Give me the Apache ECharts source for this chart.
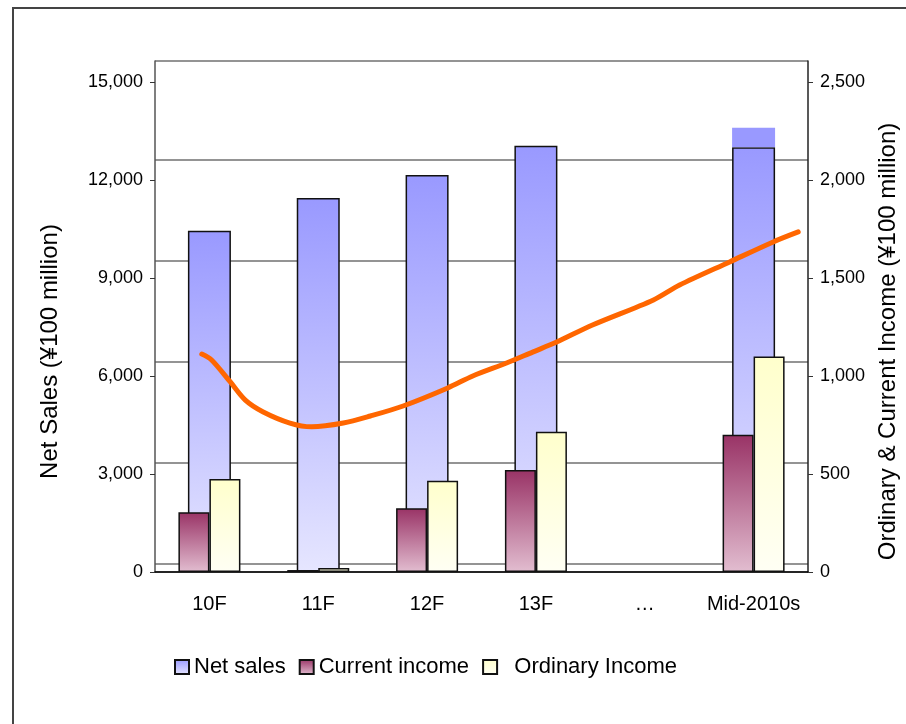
<!DOCTYPE html>
<html>
<head>
<meta charset="utf-8">
<script src="https://cdn.jsdelivr.net/npm/echarts@6/dist/echarts.min.js"></script>
<style>
html,body{margin:0;padding:0;background:#fff;}
#frame{position:absolute;left:12px;top:7px;right:0;bottom:0;border-left:2px solid #444;border-top:2px solid #444;}
#chart{position:absolute;left:0;top:0;width:906px;height:724px;}
</style>
</head>
<body>
<div id="frame"></div>
<div id="chart"></div>
<script>
// data
var categories = ['10F', '11F', '12F', '13F', '…', 'Mid-2010s'];
var netSales = [10450, 11450, 12150, 13050, null, 13000];      // left axis
var netSalesUpper = [null, null, null, null, null, 600];         // light cap on the last bar
var currentIncome = [305, 10, 325, 520, null, 700];              // right axis
var ordinaryIncome = [475, 20, 465, 715, null, 1100];            // right axis
// orange trend line, x in category units (0..6), y on the right axis
var trendX = [0.43, 0.52, 0.69, 0.83, 0.99, 1.24, 1.44, 1.73, 1.98, 2.28, 2.69, 2.92, 3.23, 3.47, 3.69, 4.02, 4.58, 4.82, 5.28, 5.68, 5.91];
var trendY = [1112, 1082, 971, 877, 818, 760, 741, 760, 796, 847, 939, 1000, 1066, 1122, 1173, 1260, 1388, 1464, 1582, 1684, 1735];
// tick labels
var leftTicks = [0, 3000, 6000, 9000, 12000, 15000];
var rightTicks = [0, 500, 1000, 1500, 2000, 2500];

var trendData = [];
for (var i = 0; i < trendX.length; i++) {
    trendData.push([trendX[i], trendY[i]]);
}

var myChart = echarts.init(document.getElementById('chart'), null, {renderer: 'canvas'});

function grad(top, bottom) {
    return new echarts.graphic.LinearGradient(0, 0, 0, 1, [
        {offset: 0, color: top},
        {offset: 1, color: bottom}
    ]);
}
function fmt(v) {
    return v.toLocaleString('en-US');
}

var option = {
    animation: false,
    textStyle: {fontFamily: 'Liberation Sans, Arial, sans-serif', color: '#000'},
    grid: {left: 155, right: 98, top: 61, bottom: 152, outerBoundsMode: 'none'},
    legend: {
        data: ['Net sales', 'Current income', 'Ordinary Income'],
        left: 174,
        top: 656,
        padding: 0,
        itemGap: 13,
        itemWidth: 14,
        itemHeight: 14,
        icon: 'rect',
        formatter: function (name) {
            return name === 'Ordinary Income' ? '  ' + name : name;
        },
        textStyle: {fontSize: 22, color: '#000'}
    },
    xAxis: [
        {
            type: 'category',
            data: categories,
            axisLine: {lineStyle: {color: '#000', width: 1.5}},
            axisTick: {inside: true, length: 8, lineStyle: {color: '#000'}},
            axisLabel: {interval: 0, fontSize: 20, color: '#000', margin: 22}
        },
        {
            type: 'category',
            data: categories,
            show: false
        },
        {
            type: 'value',
            min: 0,
            max: 6,
            show: false
        }
    ],
    yAxis: [
        {
            type: 'value',
            min: 0,
            max: 15643,
            name: 'Net Sales (¥100 million)',
            nameLocation: 'middle',
            nameGap: 93,
            nameTextStyle: {fontSize: 24, color: '#000', padding: [0, 70, 0, 0]},
            axisLine: {show: true, lineStyle: {color: '#555', width: 1.5}},
            axisTick: {show: true, length: 5, customValues: leftTicks, lineStyle: {color: '#333'}},
            axisLabel: {fontSize: 18, color: '#000', margin: 12, customValues: leftTicks, formatter: fmt},
            splitLine: {show: false}
        },
        {
            type: 'value',
            min: 0,
            max: 2607,
            position: 'right',
            name: 'Ordinary & Current Income (¥100 million)',
            nameLocation: 'middle',
            nameGap: 64,
            nameTextStyle: {fontSize: 24, color: '#000', padding: [0, 50, 0, 0]},
            axisLine: {show: true, lineStyle: {color: '#222', width: 1.5}},
            axisTick: {show: true, length: 5, customValues: rightTicks, lineStyle: {color: '#333'}},
            axisLabel: {fontSize: 18, color: '#000', margin: 12, customValues: rightTicks, formatter: fmt},
            splitLine: {show: false}
        },
        {
            // only carries the plot's horizontal rules
            type: 'value',
            min: -0.079,
            max: 4.98,
            axisLine: {show: false},
            axisTick: {show: false},
            axisLabel: {show: false},
            splitLine: {show: true, lineStyle: {color: '#707070', width: 1.5}}
        }
    ],
    series: [
        {
            name: 'Net sales',
            type: 'bar',
            xAxisIndex: 1,
            yAxisIndex: 0,
            stack: 'net',
            barWidth: 43,
            data: netSales,
            itemStyle: {color: grad('#9999FF', '#E6E6FF'), borderColor: '#111', borderWidth: 1.5}
        },
        {
            name: 'Net sales range',
            type: 'bar',
            xAxisIndex: 1,
            yAxisIndex: 0,
            stack: 'net',
            barWidth: 43,
            data: netSalesUpper,
            itemStyle: {color: '#9999FF'}
        },
        {
            name: 'Current income',
            type: 'bar',
            xAxisIndex: 0,
            yAxisIndex: 1,
            barWidth: 31,
            barGap: 0,
            data: currentIncome,
            itemStyle: {color: grad('#993366', '#E2BDD0'), borderColor: '#111', borderWidth: 1.5}
        },
        {
            name: 'Ordinary Income',
            type: 'bar',
            xAxisIndex: 0,
            yAxisIndex: 1,
            barWidth: 31,
            barGap: 0,
            data: ordinaryIncome,
            itemStyle: {color: grad('#FFFFCC', '#FFFFF4'), borderColor: '#111', borderWidth: 1.5}
        },
        {
            name: 'Trend',
            type: 'line',
            xAxisIndex: 2,
            yAxisIndex: 1,
            smooth: 0.3,
            showSymbol: false,
            data: trendData,
            lineStyle: {color: '#FF6600', width: 5, cap: 'round', join: 'round'},
            z: 5
        }
    ]
};
myChart.setOption(option);
</script>
</body>
</html>
